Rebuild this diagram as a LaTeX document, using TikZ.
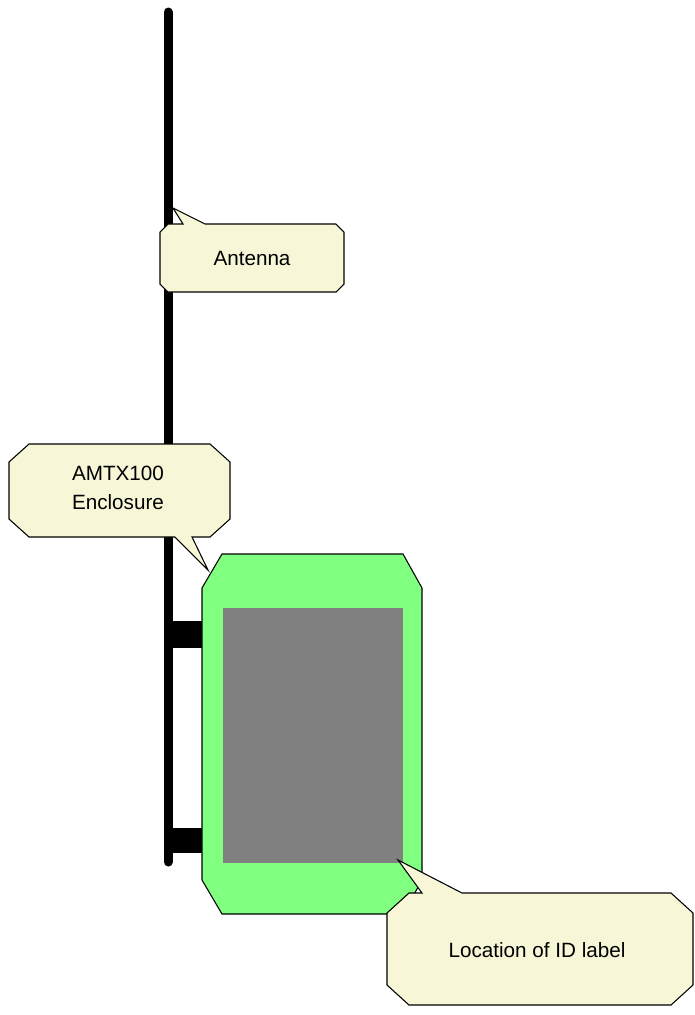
\documentclass[tikz,border=0pt]{standalone}
\usepackage{fontspec}
\setmainfont{Liberation Sans}
\definecolor{callfill}{RGB}{247,247,215}
\definecolor{encgreen}{RGB}{128,255,128}
\definecolor{labelgray}{RGB}{128,128,128}
\tikzset{
  callout/.style={draw=black, line width=0.8pt, fill=callfill, line join=miter},
  calltext/.style={font=\fontsize{15.5}{21.5}\selectfont, align=center, inner sep=0pt},
}
\begin{document}
\begin{tikzpicture}[x=0.75pt,y=-0.75pt]
\useasboundingbox (0,0) rectangle (694,1015);
% pole
\coordinate (poletop) at (168,12);
\coordinate (polebot) at (168,862);
\draw[line width=6.75pt, line cap=round] (poletop) -- (polebot);
% brackets
\fill[black] (168,621) rectangle (203,648);
\fill[black] (168,828) rectangle (203,853);
% enclosure
\draw[fill=encgreen, line width=0.8pt] (222,554) -- (403,554) -- (422,588) -- (422,880) -- (403,914) -- (222,914) -- (202,880) -- (202,588) -- cycle;
\fill[labelgray] (223,608) rectangle (403,863);
% Antenna callout
\draw[callout] (168,224) -- (183,224) -- (173,208) -- (205,224) -- (336,224) -- (344,232) -- (344,284) -- (336,292) -- (168,292) -- (160,284) -- (160,232) -- cycle;
\node[calltext] (antenna) at (252,258) {Antenna};
% AMTX100 callout
\draw[callout] (29,444) -- (210,444) -- (230,462) -- (230,519) -- (210,537) -- (192,537) -- (208,570) -- (175,537) -- (29,537) -- (9,519) -- (9,462) -- cycle;
\node[calltext] (amtx) at (118,488) {AMTX100\\Enclosure};
% Location callout
\draw[callout] (409,893) -- (422,893) -- (398,860) -- (462,893) -- (671,893) -- (693,913) -- (693,985) -- (671,1005) -- (409,1005) -- (387,985) -- (387,913) -- cycle;
\node[calltext] (loc) at (537,950) {Location of ID label};
\end{tikzpicture}
\end{document}
